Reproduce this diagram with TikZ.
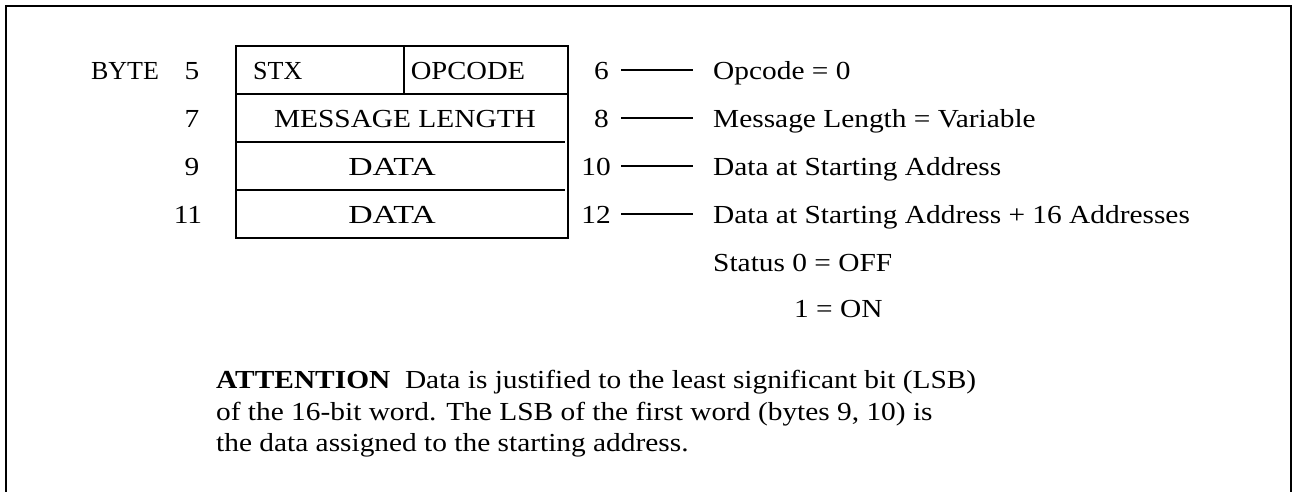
\documentclass[tikz,border=0pt]{standalone}
\usepackage{fontspec}
\setmainfont{Liberation Serif}[FakeStretch=1.13]
\newfontfamily\plainserif{Liberation Serif}
\newfontfamily\wideserif{Liberation Serif}[FakeStretch=1.3]
\newfontfamily\midserif{Liberation Serif}[FakeStretch=1.1]
\begin{document}
\begin{tikzpicture}[x=1pt,y=-1pt,
  txt/.style={inner sep=0pt, font=\fontsize{26}{30}\selectfont},
  lt/.style={txt, anchor=base west},
  ct/.style={txt, anchor=base},
  rt/.style={txt, anchor=base east},
  frame/.style={line width=2pt},
  cell/.style={line width=2.8pt},
  lead/.style={line width=2.4pt}]
\useasboundingbox (0,0) rectangle (1296,491);
% outer frame, open at the bottom
\draw[frame] (6,500) -- (6,6) -- (1291,6) -- (1291,500);

% message layout box
\draw[cell] (236,46) rectangle (568,238);
\draw[cell] (236,94) -- (568,94);
\draw[cell] (404,46) -- (404,94);
\draw[cell] (236,142) -- (565,142);
\draw[cell] (236,190) -- (565,190);

% cell contents
\node[lt] (stx) at (253,79) {\plainserif STX};
\node[ct] (opc) at (468,79) {\midserif OPCODE};
\node[ct] (mlen) at (405,127) {MESSAGE LENGTH};
\node[ct] (d1) at (392,175) {\wideserif DATA};
\node[ct] (d2) at (392,223) {\wideserif DATA};

% byte numbers, left side
\node[ct] (byte) at (125,79) {\plainserif BYTE};
\node[ct] (b5) at (192,79) {5};
\node[ct] (b7) at (192,127) {7};
\node[ct] (b9) at (192,175) {9};
\node[ct] (b11) at (188,223) {11};

% byte numbers, right side
\node[rt] (b6) at (609,79) {6};
\node[rt] (b8) at (609,127) {8};
\node[rt] (b10) at (611,175) {10};
\node[rt] (b12) at (611,223) {12};

% field descriptions
\node[lt] (t6) at (713,79) {Opcode = 0};
\node[lt] (t8) at (713,127) {Message Length = Variable};
\node[lt] (t10) at (713,175) {Data at Starting Address};
\node[lt] (t12) at (713,223) {Data at Starting Address + 16 Addresses};
\node[lt] (st0) at (713,271) {Status 0 = OFF};
\node[lt] (st1) at (794,317) {1 = ON};

% leader lines from byte number to description
\foreach \n/\y in {6/70,8/118,10/166,12/214}{
  \coordinate (la\n) at (621,\y);
  \coordinate (lb\n) at (693,\y);
  \draw[lead] (la\n) -- (lb\n);
}

% note
\node[lt] (n1) at (216,388) {\textbf{ATTENTION}\ \ Data is justified to the least significant bit (LSB)};
\node[lt] (n2) at (216,420) {of the 16-bit word. The LSB of the first word (bytes 9, 10) is};
\node[lt] (n3) at (216,451) {the data assigned to the starting address.};
\end{tikzpicture}
\end{document}
